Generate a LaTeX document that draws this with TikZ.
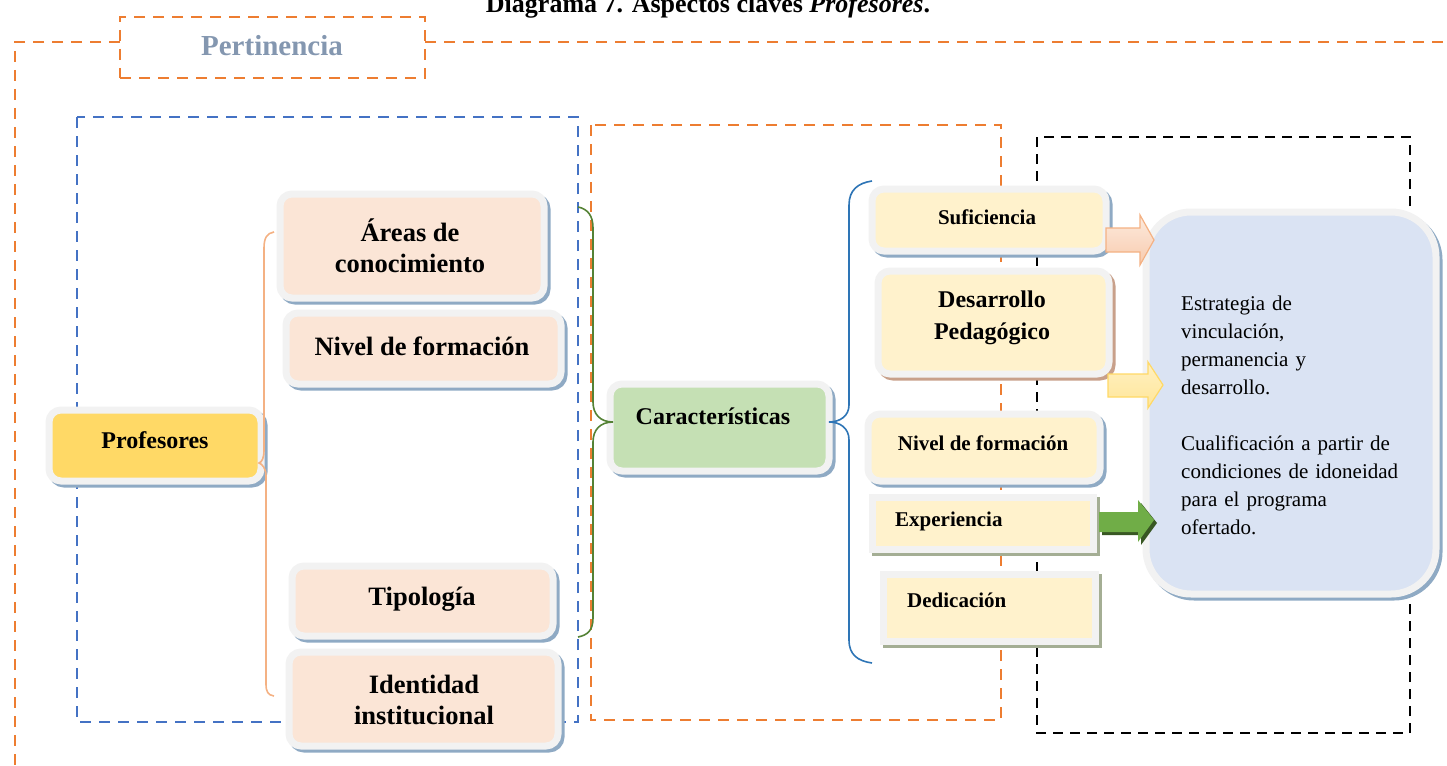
\documentclass[tikz,border=0pt]{standalone}
\usepackage{fontspec}
\setmainfont{Liberation Serif}
\usetikzlibrary{calc}
\definecolor{rimgray}{HTML}{F2F2F2}
\definecolor{peach}{HTML}{FBE5D6}
\definecolor{yellowbox}{HTML}{FFD966}
\definecolor{greenbox}{HTML}{C5E0B4}
\definecolor{creambox}{HTML}{FFF2CC}
\definecolor{bluebox}{HTML}{DAE3F3}
\definecolor{shblue}{HTML}{8FAAC4}
\definecolor{shbrown}{HTML}{C8A08A}
\definecolor{shgreen}{HTML}{A4AE94}
\definecolor{orangeD}{HTML}{ED7D31}
\definecolor{blueD}{HTML}{4472C4}
\definecolor{pertc}{HTML}{8497B0}
\definecolor{braceor}{HTML}{F4B183}
\definecolor{bracegr}{HTML}{548235}
\definecolor{bracebl}{HTML}{2E75B6}
\definecolor{arrpeach}{HTML}{F8CBAD}
\definecolor{arryel}{HTML}{FFE699}
\definecolor{arrgreen}{HTML}{70AD47}
\definecolor{arrdark}{HTML}{385723}
\newcommand{\fbig}{\fontsize{26.5}{31}\selectfont\bfseries}
\newcommand{\fsmall}{\fontsize{21}{24}\selectfont\bfseries}
\begin{document}
\begin{tikzpicture}[x=1pt,y=-1pt,
  odash/.style={draw=orangeD, line width=2.3pt, dash pattern=on 11pt off 8pt},
  bdash/.style={draw=blueD, line width=2.3pt, dash pattern=on 11pt off 8pt},
  kdash/.style={draw=black, line width=2.5pt, dash pattern=on 10pt off 7pt},
  box/.style={draw=rimgray, line width=7pt, rounded corners=12pt, fill=#1, inner sep=0pt},
  sqbox/.style={draw=rimgray, line width=7pt, fill=#1, inner sep=0pt},
  sh/.style={preaction={draw=#1, fill=#1, line width=7pt, transform canvas={shift={(3pt,-3pt)}}}},
  lbl/.style={inner sep=0pt, align=center},
  brace/.style={line width=1.6pt}
]
\useasboundingbox (0,0) rectangle (1447,765);

% title
\node[anchor=base, inner sep=0pt, font=\fontsize{26}{30}\selectfont\bfseries] (title) at (708,13) {Diagrama 7. Aspectos claves \textit{Profesores}.};

% outer frame
\draw[odash] (120,42) -- (15,42) -- (15,770);
\draw[odash] (425,42) -- (1450,42);
\node[odash, minimum width=305pt, minimum height=61pt, inner sep=0pt] (pert) at (272.5,47.5) {};
\node[lbl, text=pertc, font=\fontsize{29}{33}\selectfont\bfseries] (pertt) at (272,46) {Pertinencia};

% dashed group frames
\draw[bdash] (77,117) rectangle (578,722);
\draw[odash] (591,125) rectangle (1001,720);
\draw[kdash] (1037,137) rectangle (1410,733);

% left boxes
\node[box=yellowbox, sh=shblue, minimum width=212pt, minimum height=71pt] (prof) at (155,445.5) {};
\node[lbl, font=\fontsize{24}{28}\selectfont\bfseries] (proft) at (155,440) {Profesores};

\node[box=peach, sh=shblue, minimum width=264pt, minimum height=104pt] (areas) at (412,246) {};
\node[lbl, font=\fbig] (areast) at (410,246) {Áreas de\\conocimiento};

\node[box=peach, sh=shblue, minimum width=275pt, minimum height=71pt] (nivl) at (423.5,348.5) {};
\node[lbl, font=\fbig] (nivlt) at (422,346) {Nivel de formación};

\node[box=peach, sh=shblue, minimum width=261pt, minimum height=70pt] (tipo) at (422.5,601) {};
\node[lbl, font=\fbig] (tipot) at (422,599) {Tipología};

\node[box=peach, sh=shblue, minimum width=269pt, minimum height=94pt] (iden) at (423.5,699) {};
\node[lbl, font=\fbig] (ident) at (424,700) {Identidad\\institucional};

% middle
\node[box=greenbox, sh=shblue, minimum width=219pt, minimum height=87pt] (car) at (719.5,427.5) {};
\node[lbl, font=\fontsize{24}{28}\selectfont\bfseries] (cart) at (713,416) {Características};

% right boxes
\node[box=creambox, sh=shblue, minimum width=234pt, minimum height=62pt] (suf) at (989,220) {};
\node[lbl, font=\fsmall] (suft) at (987,217) {Suficiencia};

\node[box=creambox, sh=shbrown, minimum width=231pt, minimum height=103pt] (des) at (993.5,322.5) {};
\node[lbl, font=\fontsize{24}{32}\selectfont\bfseries] (dest) at (992,318) {Desarrollo\\Pedagógico};

\node[box=creambox, sh=shblue, minimum width=232pt, minimum height=67pt] (nivr) at (984,447.5) {};
\node[lbl, font=\fsmall] (nivrt) at (983,443) {Nivel de formación};

\node[sqbox=creambox, sh=shgreen, minimum width=221pt, minimum height=52pt] (exp) at (982.5,523) {};
\node[lbl, font=\fsmall, anchor=west] (expt) at (895,521) {Experiencia};

\node[sqbox=creambox, sh=shgreen, minimum width=212pt, minimum height=67pt] (ded) at (989,607.5) {};
\node[lbl, font=\fsmall, anchor=west] (dedt) at (907,600) {Dedicación};

% braces
\coordinate (ob1) at (274,232);
\coordinate (obt) at (259,463);
\coordinate (ob2) at (274,696);
\draw[brace, draw=braceor] (ob1) .. controls (267,233) and (264,238) .. (264,248) -- (264,450)
  .. controls (264,458) and (262,462) .. (obt) .. controls (262,464) and (266,468) .. (266,476)
  -- (266,684) .. controls (266,692) and (268,695) .. (ob2);

\coordinate (gb1) at (578,207);
\coordinate (gbt) at (613,422);
\coordinate (gb2) at (578,637);
\draw[brace, draw=bracegr] (gb1) .. controls (588,209) and (593,216) .. (593,228) -- (593,402)
  .. controls (593,414) and (600,422) .. (gbt) .. controls (600,422) and (593,430) .. (593,442)
  -- (593,618) .. controls (593,630) and (588,635) .. (gb2);

\coordinate (bb1) at (872,181);
\coordinate (bbt) at (829,422);
\coordinate (bb2) at (872,663);
\draw[brace, draw=bracebl] (bb1) .. controls (858,183) and (849,190) .. (849,205) -- (849,405)
  .. controls (849,416) and (840,422) .. (bbt) .. controls (840,422) and (849,428) .. (849,440)
  -- (849,640) .. controls (849,655) and (858,661) .. (bb2);

% big box
\node[box=bluebox, sh=shblue, rounded corners=45pt, minimum width=290pt, minimum height=382pt] (big) at (1291,403) {};
\node[inner sep=0pt, anchor=north west, align=left, text width=260pt, font=\fontsize{21}{28}\selectfont] (bigt) at (1181,296)
  {Estrategia de\\vinculación,\\permanencia y\\desarrollo.\\[28pt]Cualificación a partir de\\condiciones de idoneidad\\para el programa\\ofertado.};

% block arrows
\path[draw=braceor, line width=1.2pt, top color=white!60!arrpeach, bottom color=arrpeach]
  (1106,228) -- (1140,228) -- (1140,215) -- (1154,240) -- (1140,265) -- (1140,252) -- (1106,252) -- cycle;
\path[draw=yellowbox, line width=1.2pt, top color=white!40!arryel, bottom color=arryel]
  (1108,374) -- (1148,374) -- (1148,362) -- (1163,385) -- (1148,408) -- (1148,397) -- (1108,397) -- cycle;
\path[fill=arrdark] (1102,515) -- (1141,515) -- (1141,503) -- (1157,523) -- (1141,545) -- (1141,535) -- (1102,535) -- cycle;
\path[fill=arrgreen] (1099,512) -- (1138,512) -- (1138,500) -- (1154,520) -- (1138,542) -- (1138,532) -- (1099,532) -- cycle;
\end{tikzpicture}
\end{document}
